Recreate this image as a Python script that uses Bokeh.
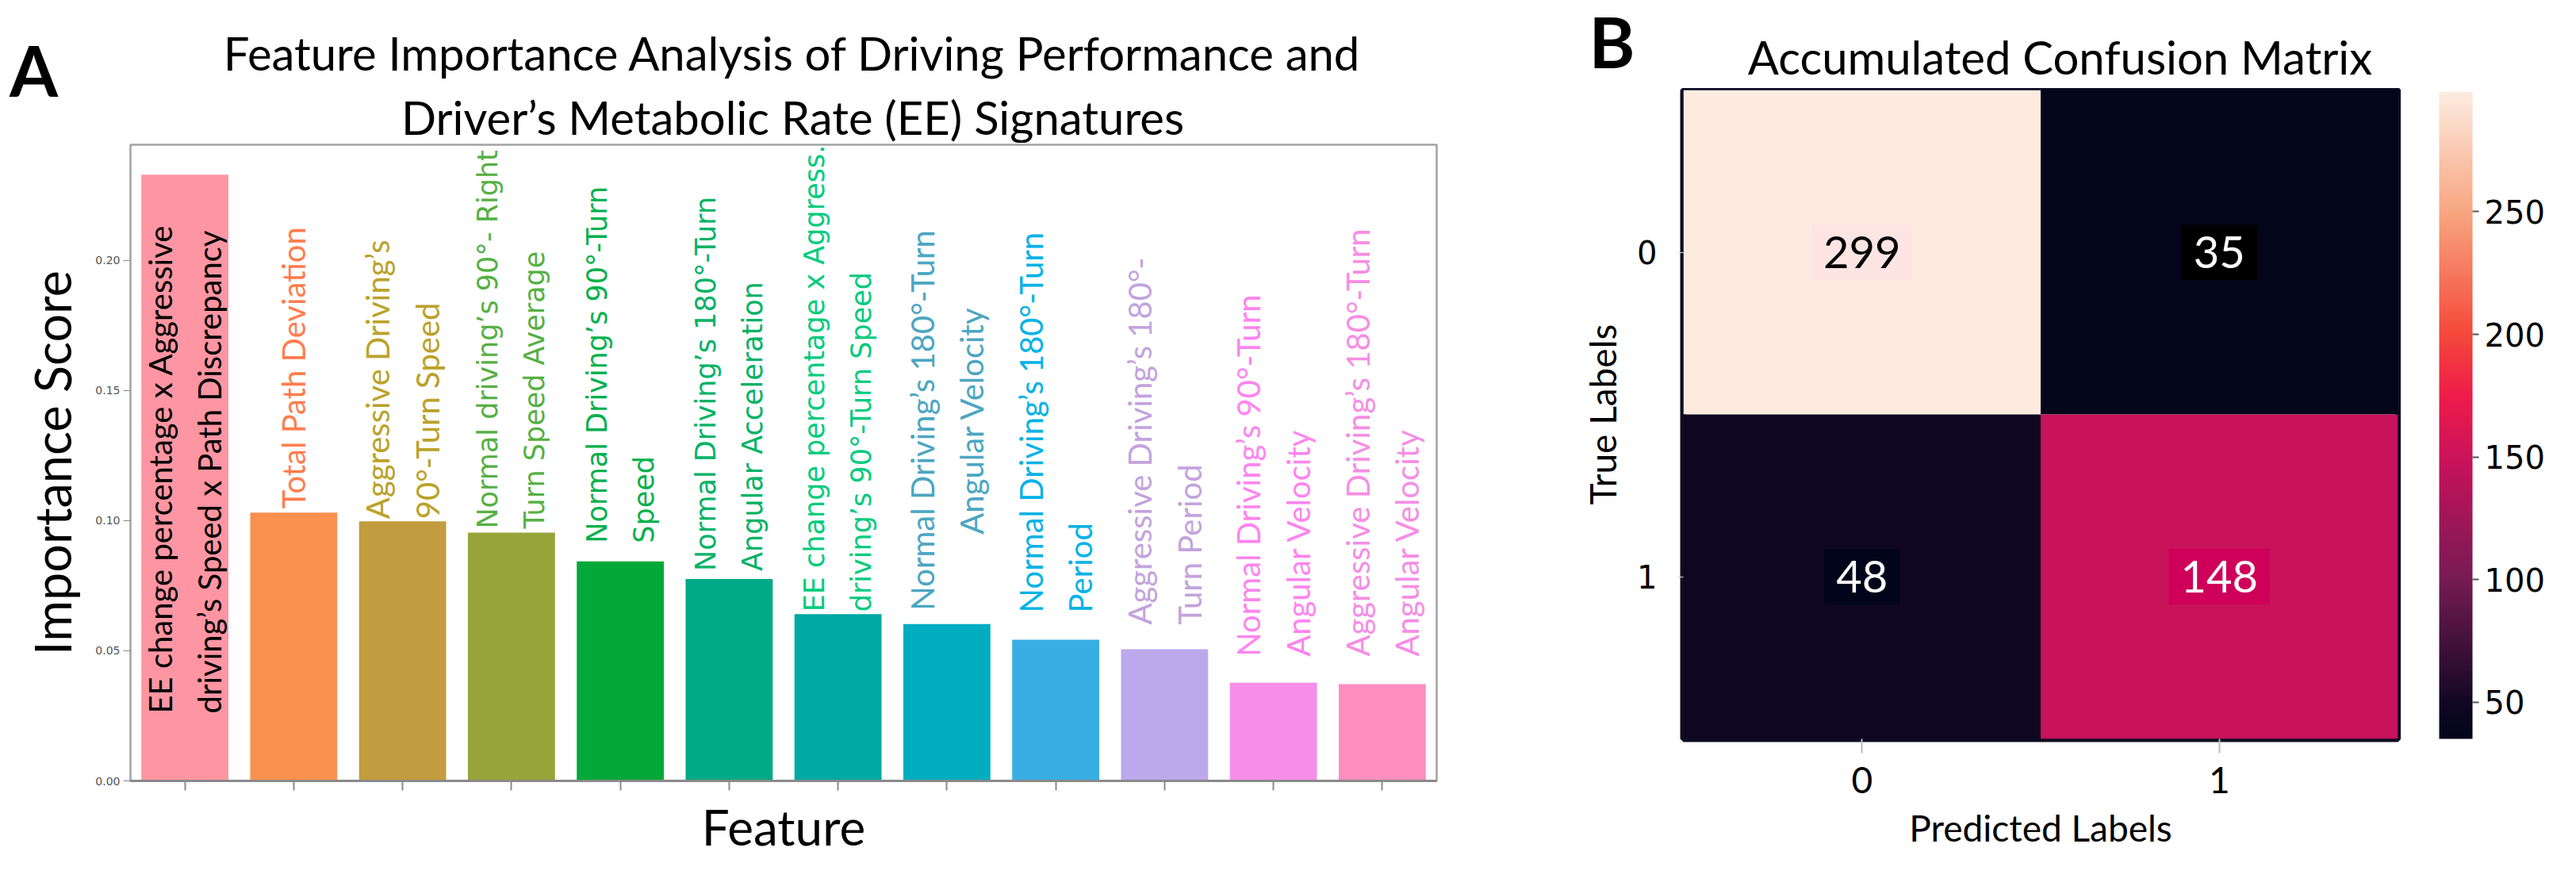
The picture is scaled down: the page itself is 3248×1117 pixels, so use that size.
import numpy as np
from bokeh.plotting import figure
from bokeh.models import (ColumnDataSource, Range1d, FixedTicker, NumeralTickFormatter,
                          ColorBar, LinearColorMapper, CustomJSTickFormatter)
from bokeh.layouts import row, column
from bokeh.transform import transform
from bokeh.core.properties import value
from bokeh.embed import file_html
from bokeh.resources import INLINE

# ---------------- data ----------------
feature_line1 = [
    "EE change percentage  x Aggressive",
    "Total Path Deviation",
    "Aggressive Driving\u2019s",
    "Normal driving\u2019s 90\u00b0- Right",
    "Normal Driving\u2019s 90\u00b0-Turn",
    "Normal Driving\u2019s 180\u00b0-Turn",
    "EE change percentage x Aggress.",
    "Normal Driving\u2019s 180\u00b0-Turn",
    "Normal Driving\u2019s 180\u00b0-Turn",
    "Aggressive Driving\u2019s 180\u00b0-",
    "Normal Driving\u2019s 90\u00b0-Turn",
    "Aggressive Driving\u2019s 180\u00b0-Turn",
]
feature_line2 = [
    "driving\u2019s Speed x Path Discrepancy",
    "",
    "90\u00b0-Turn Speed",
    "Turn Speed Average",
    "Speed",
    "Angular Acceleration",
    "driving\u2019s  90\u00b0-Turn Speed",
    "Angular Velocity",
    "Period",
    "Turn Period",
    "Angular Velocity",
    "Angular Velocity",
]
importance = [0.233, 0.1031, 0.0998, 0.0954, 0.0844, 0.0776,
              0.0641, 0.0603, 0.0543, 0.0506, 0.0377, 0.0372]
y_ticks_a = [0.0, 0.05, 0.10, 0.15, 0.20]

cm_true = [0, 0, 1, 1]
cm_pred = [0, 1, 0, 1]
cm_count = [299, 35, 48, 148]
class_ticks = [0, 1]
cbar_ticks = [50, 100, 150, 200, 250]

title_a = ["Feature Importance Analysis of Driving Performance and",
           "Driver\u2019s Metabolic Rate (EE) Signatures"]
title_b = "Accumulated Confusion Matrix"

# ---------------- styles ----------------
bar_colors = ["#FE95A2", "#F8914F", "#C39C3F", "#97A43A", "#02A938", "#00AA86",
              "#00A9A3", "#00ADBF", "#38AEE5", "#BCA9EB", "#F68EEA", "#FF8DC0"]
label_colors = ["#000000", "#FF7D4D", "#BBA22A", "#55B043", "#00B04C", "#00B266",
                "#00CB7D", "#4BA6C2", "#00B2E6", "#C3A3DD", "#FF84EE", "#F68DE4"]
label_group = ["lato", "lato", "lato", "dejavu", "dejavu", "dejavu", "dejavu",
               "lato_c", "lato", "lato", "lato", "lato"]
label_gap_px = [0, 5, 3, 5, 23, 10, 3, 17, 34, 31, 33, 35]
inside_start_px = 85

Y_TOP = 0.2445
FRAME_H_A = 802
FRAME_H_B = 818
px_a = Y_TOP / FRAME_H_A

n = len(importance)
idx = list(range(n))
label_text = [a + ("\n" + b if b else "") for a, b in zip(feature_line1, feature_line2)]
label_y = []
for i, v in enumerate(importance):
    if i == 0:
        label_y.append(inside_start_px * px_a)
    else:
        label_y.append(v + label_gap_px[i] * px_a)


def header(w, h):
    f = figure(width=w, height=h, x_range=Range1d(0, w), y_range=Range1d(0, h),
               output_backend="svg", toolbar_location=None, title=None, min_border=0)
    f.axis.visible = False
    f.grid.visible = False
    f.outline_line_color = None
    f.border_fill_color = "white"
    return f


def htext(f, x, y, text, size, style="normal"):
    f.text(x=[x], y=[y], text=[text], text_align="center", text_baseline="alphabetic",
           text_font=value("Lato"), text_font_size=size, text_font_style=style,
           text_color="black")


# ---------------- panel A ----------------
hA = header(1960, 180)
htext(hA, 42, 93, "A", "88px", "bold")
htext(hA, 999, 114, title_a[0], "58px")
htext(hA, 999, 33, title_a[1], "58px")

BOT_A = 116
pa = figure(width=1960, height=2 + FRAME_H_A + BOT_A, x_range=Range1d(-0.5, 11.5),
            y_range=Range1d(0, Y_TOP), output_backend="svg", toolbar_location=None, title=None,
            min_border_left=164, min_border_right=149, min_border_top=2, min_border_bottom=BOT_A)
pa.xgrid.visible = False
pa.ygrid.visible = False
pa.outline_line_color = "#a3a3a3"
pa.outline_line_width = 2.5
pa.background_fill_color = "white"
pa.border_fill_color = "white"

src_bars = ColumnDataSource(dict(x=idx, top=importance, color=bar_colors))
pa.vbar(x="x", top="top", width=0.8, source=src_bars, fill_color="color", line_color=None)

groups = {
    "lato": dict(font="Lato", size="40px", lh=1.3, align="left"),
    "lato_c": dict(font="Lato", size="40px", lh=1.3, align="center"),
    "dejavu": dict(font="DejaVu Sans", size="35px", lh=1.48, align="left"),
}
for g, st in groups.items():
    sel = [i for i in idx if label_group[i] == g]
    src = ColumnDataSource(dict(x=[idx[i] for i in sel], y=[label_y[i] for i in sel],
                                text=[label_text[i] for i in sel],
                                color=[label_colors[i] for i in sel]))
    pa.text(x="x", y="y", text="text", source=src, angle=np.pi / 2,
            anchor=value("center_left"), text_align=st["align"], text_baseline="middle",
            text_font=value(st["font"]), text_font_size=st["size"],
            text_line_height=st["lh"], text_color="color")

xa = pa.xaxis[0]
xa.ticker = FixedTicker(ticks=idx)
xa.formatter = CustomJSTickFormatter(code="return ''")
xa.major_label_standoff = 0
xa.major_tick_in = 0
xa.major_tick_out = 12
xa.major_tick_line_color = "#8a8a8a"
xa.major_tick_line_width = 2
xa.minor_tick_line_color = None
xa.axis_line_color = "#8a8a8a"
xa.axis_line_width = 3
xa.axis_label = "Feature"
xa.axis_label_text_font = "Lato"
xa.axis_label_text_font_size = "62px"
xa.axis_label_text_font_style = "normal"
xa.axis_label_text_color = "black"
xa.axis_label_standoff = 8

ya = pa.yaxis[0]
ya.ticker = FixedTicker(ticks=y_ticks_a)
ya.formatter = NumeralTickFormatter(format="0.00")
ya.major_label_text_font = "DejaVu Sans"
ya.major_label_text_font_size = "14px"
ya.major_label_text_color = "#555555"
ya.major_label_standoff = 4
ya.major_tick_in = 0
ya.major_tick_out = 9
ya.major_tick_line_color = "#888888"
ya.minor_tick_line_color = None
ya.axis_line_color = None
ya.axis_label = "Importance Score"
ya.axis_label_text_font = "Lato"
ya.axis_label_text_font_size = "63px"
ya.axis_label_text_font_style = "normal"
ya.axis_label_text_color = "black"
ya.axis_label_standoff = 14

# ---------------- panel B ----------------
anchors = [(0.0, "#03051A"), (0.049, "#0F0722"), (0.246, "#761B54"), (0.428, "#C8125A"),
           (0.53, "#EE1C4A"), (0.625, "#F4483A"), (0.81, "#F7A47E"), (1.0, "#FDEBE0")]


def _rgb(h):
    return np.array([int(h[1:3], 16), int(h[3:5], 16), int(h[5:7], 16)], dtype=float)


ts = np.array([a[0] for a in anchors])
cols = np.array([_rgb(a[1]) for a in anchors])
palette = []
for t in np.linspace(0, 1, 256):
    rgb = [np.interp(t, ts, cols[:, k]) for k in range(3)]
    palette.append("#%02x%02x%02x" % tuple(int(round(c)) for c in rgb))

mapper = LinearColorMapper(palette=palette, low=min(cm_count), high=max(cm_count))

hB = header(1272, 111)
htext(hB, 72, 60, "B", "88px", "bold")
htext(hB, 637, 40, title_b, "58px")

BOT_B = 169
LEFT_B, RIGHT_B, FRAME_W_B = 162, 4, 901
pb = figure(width=LEFT_B + FRAME_W_B + RIGHT_B, height=2 + FRAME_H_B + BOT_B,
            x_range=Range1d(-0.5, 1.5), y_range=Range1d(1.5, -0.5),
            output_backend="svg", toolbar_location=None, title=None,
            min_border_left=LEFT_B, min_border_right=RIGHT_B, min_border_top=2,
            min_border_bottom=BOT_B)
pb.xgrid.visible = False
pb.ygrid.visible = False
pb.outline_line_color = "#0c0d24"
pb.outline_line_width = 8
pb.border_fill_color = "white"

src_cm = ColumnDataSource(dict(x=cm_pred, y=cm_true, count=cm_count,
                               label=[str(c) for c in cm_count],
                               tcolor=["#000000", "#ffffff", "#ffffff", "#ffffff"],
                               bg=["#FDE5E3", "#000000", "#01041A", "#CF0059"]))
pb.rect(x="x", y="y", width=1, height=1, source=src_cm,
        fill_color=transform("count", mapper), line_color=None)
pb.text(x="x", y="y", text="label", source=src_cm, text_align="center", text_baseline="middle",
        text_font=value("Lato"), text_font_size="56px", text_color="tcolor",
        background_fill_color="bg", padding=15)

xb = pb.xaxis[0]
xb.ticker = FixedTicker(ticks=class_ticks)
xb.major_label_text_font = "Lato"
xb.major_label_text_font_size = "46px"
xb.major_label_text_color = "black"
xb.major_label_standoff = 17
xb.major_tick_in = 0
xb.major_tick_out = 18
xb.major_tick_line_color = "#bbbbbb"
xb.major_tick_line_width = 2
xb.minor_tick_line_color = None
xb.axis_line_color = None
xb.axis_label = "Predicted Labels"
xb.axis_label_text_font = "Lato"
xb.axis_label_text_font_size = "46px"
xb.axis_label_text_font_style = "normal"
xb.axis_label_text_color = "black"
xb.axis_label_standoff = 13

yb = pb.yaxis[0]
yb.ticker = FixedTicker(ticks=class_ticks)
yb.major_label_text_font = "DejaVu Sans"
yb.major_label_text_font_size = "40px"
yb.major_label_text_color = "black"
yb.major_label_standoff = 25
yb.major_tick_in = 0
yb.major_tick_out = 8
yb.major_tick_line_color = "#dddddd"
yb.minor_tick_line_color = None
yb.axis_line_color = None
yb.axis_label = "True Labels"
yb.axis_label_text_font = "Lato"
yb.axis_label_text_font_size = "46px"
yb.axis_label_text_font_style = "normal"
yb.axis_label_text_color = "black"
yb.axis_label_standoff = 13

# colour bar lives in its own narrow plot to the right of the heatmap
pc = figure(width=1272 - (LEFT_B + FRAME_W_B + RIGHT_B), height=2 + FRAME_H_B + BOT_B,
            x_range=Range1d(0, 1), y_range=Range1d(0, 1), output_backend="svg",
            toolbar_location=None, title=None, min_border_left=0, min_border_right=0,
            min_border_top=2, min_border_bottom=BOT_B)
pc.axis.visible = False
pc.grid.visible = False
pc.outline_line_color = None
pc.border_fill_color = "white"
cbar = ColorBar(color_mapper=mapper, ticker=FixedTicker(ticks=cbar_ticks), width=42,
                height=FRAME_H_B - 2, location=(48, 0), padding=0, margin=0,
                major_label_text_font="DejaVu Sans", major_label_text_font_size="40px",
                major_label_text_color="black",
                major_tick_in=0, major_tick_out=8, major_tick_line_color="#555555",
                major_tick_line_width=2, label_standoff=7,
                bar_line_color=None, border_line_color=None, background_fill_color=None)
pc.add_layout(cbar, "center")

layout = row(column(row(hA), pa), column(row(hB), row(pb, pc)))
open("out.html", "w").write(file_html(layout, INLINE))
